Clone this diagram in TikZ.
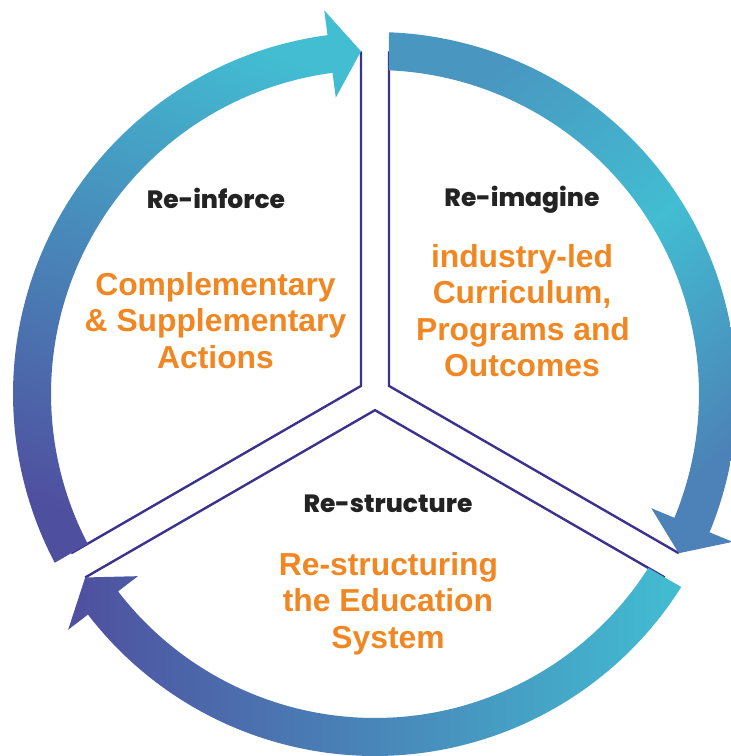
\documentclass[tikz,border=0pt]{standalone}
\usepackage{fontspec}
\setmainfont{Liberation Sans}
\newfontfamily\headfont{Poppins}[BoldFont={Poppins ExtraBold}]
\newfontfamily\bodyfont{Liberation Sans}

\definecolor{ringcyan}{RGB}{66,189,210}
\definecolor{ringpurple}{RGB}{79,79,159}
\definecolor{ringblue}{RGB}{73,150,192}
\definecolor{ringdeep}{RGB}{76,130,183}
\definecolor{linenavy}{RGB}{58,50,140}
\definecolor{accentorange}{RGB}{240,135,34}
\definecolor{headgray}{RGB}{35,35,35}

% angles of one ring arrow: #1 = gap where the tail starts, #2 = gap the tip points into
\newcommand\ringarrowangles[2]{%
  \pgfmathsetmacro{\rtin}{#1-asin(14/324)}%
  \pgfmathsetmacro{\rtout}{#1-asin(14/362)}%
  \pgfmathsetmacro{\rtip}{#2+asin(14/343)}%
  \pgfmathsetmacro{\rbase}{\rtip+5.2}%
}
\newcommand\ringarrowpath{%
  (\rtin:324) -- (\rtout:362)
  arc[start angle=\rtout, end angle=\rbase, radius=362]
  -- (\rbase:387) -- (\rtip:343) -- (\rbase:299) -- (\rbase:324)
  arc[start angle=\rbase, end angle=\rtin, radius=324] -- cycle}

\begin{document}
\begin{tikzpicture}[x=1pt,y=1pt,
  divider/.style={draw=linenavy, line width=2.4pt, line join=miter},
  headtext/.style={font=\headfont\bfseries\fontsize{25}{30}\selectfont,
    text=headgray, anchor=base, inner sep=0pt},
  bodytext/.style={font=\bodyfont\bfseries\fontsize{31.8}{36}\selectfont,
    text=accentorange, anchor=base, inner sep=0pt}]

\useasboundingbox (-375,-362) rectangle (356,394);

% the three dividers forming the central Y
\pgfmathsetmacro{\gm}{asin(14/343)}
\draw[divider] ({90+\gm}:343) -- (150:16.166) -- ({210-\gm}:343);
\draw[divider] ({90-\gm}:343) -- (30:16.166) -- ({-30+\gm}:343);
\draw[divider] ({210+\gm}:343) -- (270:16.166) -- ({330-\gm}:343);

% ring arrows, clockwise
\ringarrowangles{90}{-30}
\shade[top color=ringblue, bottom color=ringdeep, middle color=ringcyan,
  shading angle=40] \ringarrowpath;
\ringarrowangles{-30}{-150}
\shade[left color=ringpurple, right color=ringcyan] \ringarrowpath;
\ringarrowangles{-150}{-270}
\shade[bottom color=ringpurple, top color=ringcyan, shading angle=-20] \ringarrowpath;

% Re-inforce
\node[headtext] (hinforce) at (-159,185.3) {Re-inforce};
\node[bodytext] (inf1) at (-159.5,99) {Complementary};
\node[bodytext] (inf2) at (-159.5,62.5) {\& Supplementary};
\node[bodytext] (inf3) at (-159.5,26) {Actions};

% Re-imagine
\node[headtext] (himagine) at (147,187.3) {Re-imagine};
\node[bodytext] (ima1) at (147,127) {industry-led};
\node[bodytext] (ima2) at (147,90.5) {Curriculum,};
\node[bodytext] (ima3) at (148,54) {Programs and};
\node[bodytext] (ima4) at (147,17.5) {Outcomes};

% Re-structure
\node[headtext] (hstructure) at (13,-118) {Re-structure};
\node[bodytext] (str1) at (13.5,-181) {Re-structuring};
\node[bodytext] (str2) at (13,-217.5) {the Education};
\node[bodytext] (str3) at (13,-254) {System};
\end{tikzpicture}
\end{document}
